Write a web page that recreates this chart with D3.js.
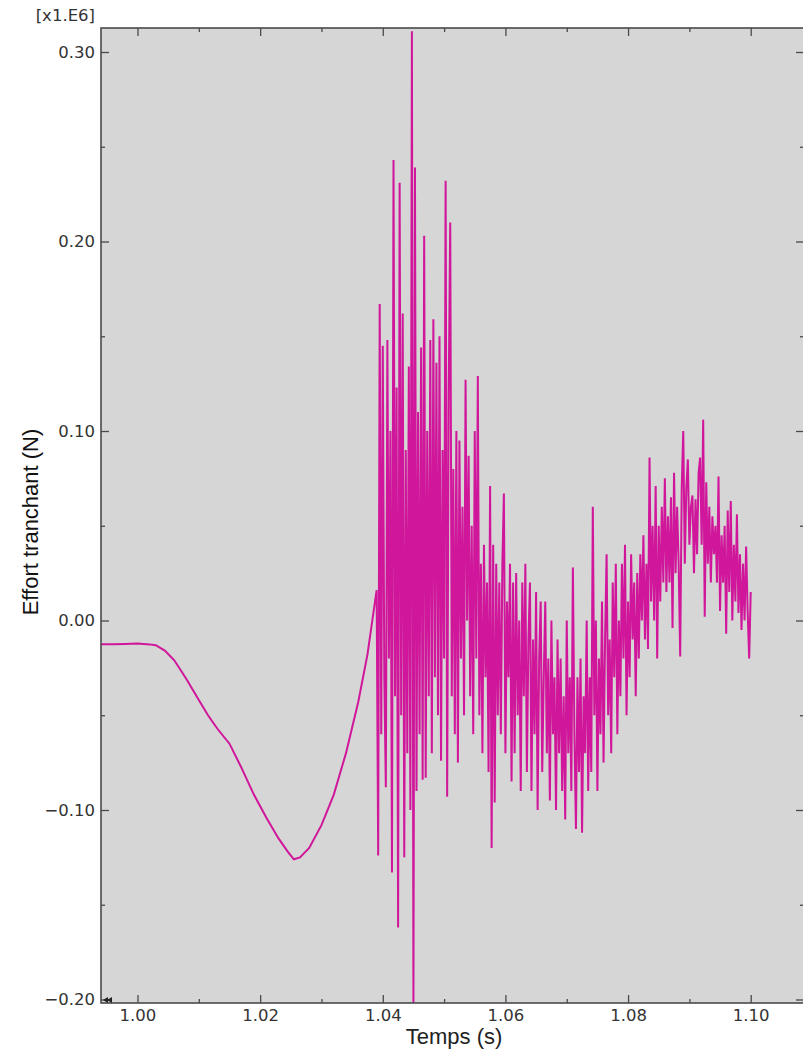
<!DOCTYPE html>
<html>
<head>
<meta charset="utf-8">
<script src="https://cdn.jsdelivr.net/npm/d3@7"></script>
<style>
  body { margin: 0; background: #fff; }
  svg { display: block; }
</style>
</head>
<body>
<div id="chart"></div>
<script>
// smooth part of the response (time in s, effort in x1.E6 N)
const smoothTime = [0.9940, 0.9960, 0.9980, 1.0000, 1.0020, 1.0030, 1.0045, 1.0060, 1.0080, 1.0100,
    1.0115, 1.0130, 1.0150, 1.0170, 1.0190, 1.0210, 1.0230, 1.0245, 1.0255, 1.0265,
    1.0280, 1.0300, 1.0320, 1.0340, 1.0360, 1.0375];
const smoothEffort = [-0.0125, -0.0125, -0.0124, -0.0122, -0.0126, -0.0130, -0.016, -0.021, -0.031, -0.042,
    -0.050, -0.057, -0.065, -0.078, -0.092, -0.104, -0.115, -0.122, -0.126, -0.125,
    -0.120, -0.108, -0.092, -0.070, -0.043, -0.018];

// noisy part, sampled every 0.25 ms from 1.039 s
const noisyStart = 1.039;
const noisyStep = 0.00025;
const noisyEffort = [
    0.016, -0.124, 0.167, -0.06, 0.145, -0.03, -0.088, 0.148, -0.02, 0.10,
    -0.133, 0.243, -0.04, 0.123, -0.162, 0.231, -0.05, 0.162, -0.125, 0.09,
    -0.07, 0.134, -0.10, 0.311, -0.205, 0.239, -0.09, 0.11, -0.06, 0.144,
    -0.084, 0.203, -0.083, 0.10, -0.04, 0.148, -0.07, 0.159, -0.03, 0.136,
    -0.05, 0.15, -0.074, 0.09, -0.02, 0.232, -0.093, 0.12, 0.21, -0.04,
    0.08, -0.06, 0.10, -0.075, 0.095, -0.02, 0.06, -0.05, 0.127, 0.0,
    0.087, -0.04, 0.05, -0.06, 0.10, -0.02, 0.129, -0.05, 0.03, -0.07,
    0.04, -0.03, 0.02, -0.08, 0.071, -0.12, 0.04, -0.096, 0.03, -0.05,
    0.02, -0.06, 0.03, 0.067, -0.07, 0.01, -0.03, 0.03, -0.085, 0.02,
    -0.07, 0.025, -0.05, 0.0, -0.09, 0.02, -0.04, 0.03, -0.08, -0.01,
    0.02, -0.09, -0.01, -0.06, 0.015, -0.10, -0.02, 0.01, -0.08, -0.03,
    0.01, -0.07, -0.02, -0.095, 0.0, -0.06, -0.03, -0.10, -0.01, -0.07,
    -0.02, -0.09, -0.04, -0.105, 0.0, -0.07, -0.03, -0.09, 0.028, -0.06,
    -0.11, -0.03, -0.08, -0.02, -0.112, -0.04, -0.07, 0.0, -0.09, -0.03,
    -0.08, 0.06, -0.05, 0.0, -0.09, -0.02, -0.06, 0.01, -0.075, -0.01,
    0.035, -0.05, -0.01, -0.07, 0.02, -0.03, 0.03, -0.06, 0.0, -0.04,
    0.03, -0.02, 0.04, -0.05, 0.01, -0.03, 0.035, -0.01, 0.02, -0.04,
    0.025, -0.02, 0.035, 0.0, 0.045, -0.01, 0.03, -0.015, 0.086, 0.01,
    0.05, 0.0, 0.071, -0.02, 0.05, 0.01, 0.06, 0.02, 0.075, 0.015,
    0.055, 0.02, 0.065, -0.004, 0.078, 0.025, 0.06, 0.03, -0.019, 0.07,
    0.10, 0.03, 0.07, 0.085, 0.04, 0.06, 0.066, 0.025, 0.064, 0.035,
    0.078, 0.086, 0.04, 0.106, 0.002, 0.073, 0.03, 0.06, 0.02, 0.055,
    0.035, 0.05, 0.02, 0.076, 0.005, 0.045, 0.02, 0.05, -0.007, 0.058,
    0.015, 0.063, 0.0, 0.04, 0.01, 0.056, 0.004, 0.035, -0.005, 0.03,
    0.0, 0.039, 0.005, -0.02, 0.015
];

const xMajor = [1.00, 1.02, 1.04, 1.06, 1.08, 1.10];
const xMinor = [1.01, 1.03, 1.05, 1.07, 1.09];
const yMajor = [-0.20, -0.10, 0.00, 0.10, 0.20, 0.30];
const yMinor = [-0.15, -0.05, 0.05, 0.15, 0.25];

const W = 803, H = 1055;
const plot = {left: 101, right: 804, top: 28, bottom: 1003};

const svg = d3.select('#chart')
    .append('svg')
    .attr('width', W)
    .attr('height', H);

const x = d3.scaleLinear()
    .domain([0.99405, 1.10869])
    .range([plot.left, plot.right]);

const y = d3.scaleLinear()
    .domain([-0.20185, 0.31267])
    .range([plot.bottom, plot.top]);

// plot background
svg.append('rect')
    .attr('x', plot.left)
    .attr('y', plot.top)
    .attr('width', plot.right - plot.left)
    .attr('height', plot.bottom - plot.top)
    .attr('fill', '#d6d6d6');

svg.append('clipPath')
    .attr('id', 'clip')
    .append('rect')
    .attr('x', plot.left)
    .attr('y', plot.top)
    .attr('width', plot.right - plot.left)
    .attr('height', plot.bottom - plot.top);

// build the series
const series = smoothTime.map((t, i) => ({t: t, v: smoothEffort[i]}))
    .concat(noisyEffort.map((v, i) => ({t: noisyStart + i * noisyStep, v: v})));

const line = d3.line()
    .x(d => x(d.t))
    .y(d => y(d.v));

svg.append('path')
    .datum(series)
    .attr('clip-path', 'url(#clip)')
    .attr('fill', 'none')
    .attr('stroke', '#d0169a')
    .attr('stroke-width', 2)
    .attr('stroke-linejoin', 'miter')
    .attr('d', line);

// axes (ticks point inward)
const axisColor = '#4a4a4a';
const fmt = d3.format('.2f');

function styleAxis(g) {
    g.select('.domain').remove();
    g.selectAll('line').attr('stroke', axisColor).attr('stroke-width', 1.3);
    g.selectAll('text')
        .attr('fill', '#333')
        .style('font-family', 'DejaVu Sans, Verdana, sans-serif')
        .style('font-size', '16.5px');
}

svg.append('g')
    .attr('transform', `translate(0,${plot.bottom})`)
    .call(d3.axisBottom(x).tickValues(xMajor).tickSize(-8).tickPadding(6).tickFormat(fmt))
    .call(styleAxis);
svg.append('g')
    .attr('transform', `translate(0,${plot.bottom})`)
    .call(d3.axisBottom(x).tickValues(xMinor).tickSize(-4).tickFormat(''))
    .call(styleAxis);
svg.append('g')
    .attr('transform', `translate(0,${plot.top})`)
    .call(d3.axisTop(x).tickValues(xMajor).tickSize(-8).tickFormat(''))
    .call(styleAxis);
svg.append('g')
    .attr('transform', `translate(0,${plot.top})`)
    .call(d3.axisTop(x).tickValues(xMinor).tickSize(-4).tickFormat(''))
    .call(styleAxis);

svg.append('g')
    .attr('transform', `translate(${plot.left},0)`)
    .call(d3.axisLeft(y).tickValues(yMajor).tickSize(-8).tickPadding(6).tickFormat(fmt))
    .call(styleAxis);
svg.append('g')
    .attr('transform', `translate(${plot.left},0)`)
    .call(d3.axisLeft(y).tickValues(yMinor).tickSize(-4).tickFormat(''))
    .call(styleAxis);
svg.append('g')
    .attr('transform', `translate(${plot.right},0)`)
    .call(d3.axisRight(y).tickValues(yMajor).tickSize(-8).tickFormat(''))
    .call(styleAxis);
svg.append('g')
    .attr('transform', `translate(${plot.right},0)`)
    .call(d3.axisRight(y).tickValues(yMinor).tickSize(-4).tickFormat(''))
    .call(styleAxis);

// frame
svg.append('rect')
    .attr('x', plot.left)
    .attr('y', plot.top)
    .attr('width', plot.right - plot.left)
    .attr('height', plot.bottom - plot.top)
    .attr('fill', 'none')
    .attr('stroke', axisColor)
    .attr('stroke-width', 1.6);

// small rewind marker in the corner
svg.append('path')
    .attr('d', `M${plot.left + 2},${plot.bottom - 3} l5,-3 v6 z M${plot.left + 6},${plot.bottom - 3} l5,-3 v6 z`)
    .attr('fill', '#222');

// scale factor
svg.append('text')
    .attr('x', 95)
    .attr('y', 21)
    .attr('text-anchor', 'end')
    .attr('fill', '#333')
    .style('font-family', 'DejaVu Sans, Verdana, sans-serif')
    .style('font-size', '16.5px')
    .text('[x1.E6]');

// axis titles
svg.append('text')
    .attr('x', 454)
    .attr('y', 1044)
    .attr('text-anchor', 'middle')
    .attr('fill', '#222')
    .style('font-family', 'Liberation Sans, Arial, sans-serif')
    .style('font-size', '22px')
    .text('Temps (s)');

svg.append('text')
    .attr('transform', 'translate(38,522) rotate(-90)')
    .attr('text-anchor', 'middle')
    .attr('fill', '#111')
    .style('font-family', 'Liberation Sans, Arial, sans-serif')
    .style('font-size', '22px')
    .text('Effort tranchant (N)');
</script>
</body>
</html>
